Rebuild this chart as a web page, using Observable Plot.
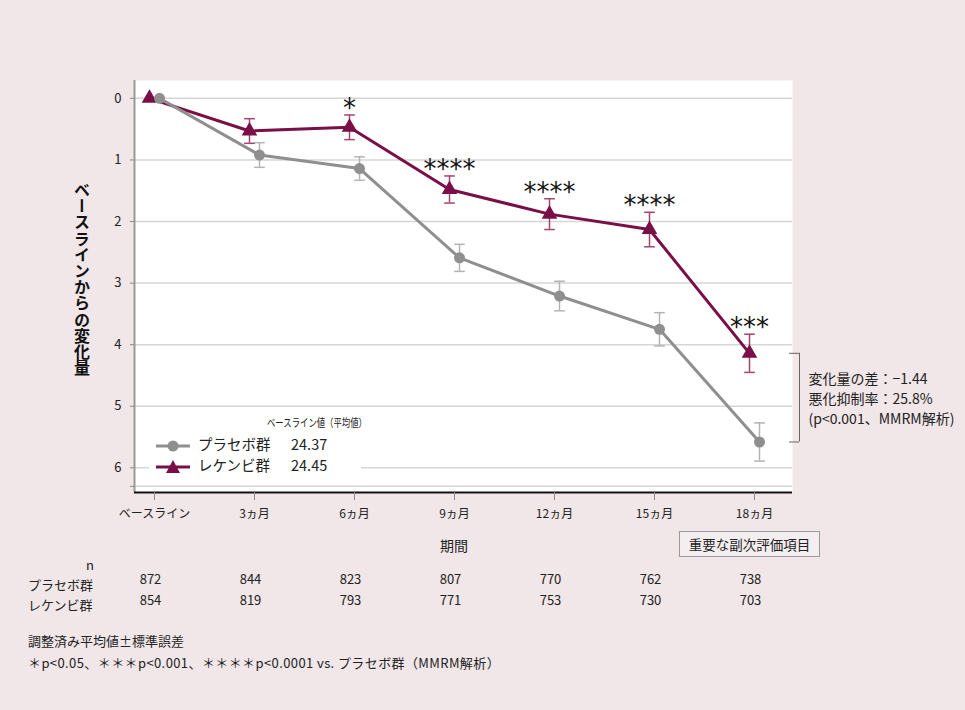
<!DOCTYPE html>
<html><head><meta charset="utf-8">
<script src="https://cdn.jsdelivr.net/npm/d3@7"></script>
<script src="https://cdn.jsdelivr.net/npm/@observablehq/plot@0.6"></script>
<style>
html,body{margin:0;padding:0;background:#f1e6e8;}
#wrap{position:relative;width:965px;height:710px;background:#f1e6e8;overflow:hidden;font-family:"Noto Sans CJK JP","Noto Sans",sans-serif;color:#222;}
#chart{position:absolute;left:0;top:0;}
.abs{position:absolute;white-space:nowrap;}
</style></head>
<body><div id="wrap"><div id="chart"></div></div>
<script>
// ---- data ----
const months = [0, 3, 6, 9, 12, 15, 18];
const xLabels = ["ベースライン", "3ヵ月", "6ヵ月", "9ヵ月", "12ヵ月", "15ヵ月", "18ヵ月"];
const placeboMean = [0, 0.92, 1.14, 2.59, 3.21, 3.75, 5.58];
const placeboSE   = [0, 0.20, 0.19, 0.22, 0.24, 0.27, 0.31];
const lecMean     = [0, 0.53, 0.47, 1.48, 1.88, 2.13, 4.14];
const lecSE       = [0, 0.20, 0.20, 0.22, 0.25, 0.28, 0.31];
const sigLabels   = ["", "", "*", "****", "****", "****", "***"];
const nPlacebo = [872, 844, 823, 807, 770, 762, 738];
const nLec     = [854, 819, 793, 771, 753, 730, 703];
const yTicks = [0, 1, 2, 3, 4, 5, 6];
const yExtraTick = [6.3];
const groupNames = ["プラセボ群", "レケンビ群"];
const baselineValues = ["24.37", "24.45"];
const annotationLines = ["変化量の差：−1.44", "悪化抑制率：25.8%", "(p<0.001、MMRM解析)"];

const colPla = "#8f8f8f", colPlaErr = "#b4b4b4";
const colLec = "#7a0f47", colLecErr = "#a3456f";

const pla = months.map((m, i) => ({month: m, v: placeboMean[i], se: placeboSE[i]}));
const lec = months.map((m, i) => ({month: m, v: lecMean[i], se: lecSE[i], sig: sigLabels[i]}));
const errPla = pla.filter(d => d.se > 0);
const errLec = lec.filter(d => d.se > 0);

const xDomain = [-0.6, 19.14];
const yDomain = [-0.29, 6.4];
const cap = 0.16;
const bracketX = 19.35;

const lastP = pla[pla.length - 1], lastL = lec[lec.length - 1];

const chart = Plot.plot({
  width: 965, height: 710,
  marginLeft: 134, marginRight: 173, marginTop: 80, marginBottom: 218,
  style: {background: "transparent", fontFamily: "'Noto Sans CJK JP', sans-serif", fontSize: "13px", overflow: "visible", color: "#222"},
  x: {type: "linear", domain: xDomain},
  y: {domain: yDomain, reverse: true},
  marks: [
    Plot.frame({fill: "white", stroke: null}),
    Plot.ruleY(yTicks.concat(yExtraTick), {stroke: "#d6d6d6", strokeWidth: 1.5}),
    Plot.ruleX([xDomain[0]], {stroke: "#9a9a9a", strokeWidth: 2}),
    Plot.ruleY([yDomain[1]], {stroke: "#111", strokeWidth: 2}),
    Plot.axisY({ticks: yTicks.concat(yExtraTick), tickFormat: d => Number.isInteger(d) ? String(d) : "", tickSize: 4, tickPadding: 9, stroke: "#888", label: null, fontSize: 13}),
    Plot.axisX({ticks: months, tickFormat: d => xLabels[months.indexOf(d)], tickSize: 8, tickPadding: 9, stroke: "#888", label: null, fontSize: 12}),
    // error bars
    Plot.ruleX(errPla, {x: "month", y1: d => d.v - d.se, y2: d => d.v + d.se, dx: 5, stroke: colPlaErr, strokeWidth: 1.5}),
    Plot.link(errPla, {x1: d => d.month - cap, x2: d => d.month + cap, y1: d => d.v - d.se, y2: d => d.v - d.se, dx: 5, stroke: colPlaErr, strokeWidth: 1.5}),
    Plot.link(errPla, {x1: d => d.month - cap, x2: d => d.month + cap, y1: d => d.v + d.se, y2: d => d.v + d.se, dx: 5, stroke: colPlaErr, strokeWidth: 1.5}),
    Plot.ruleX(errLec, {x: "month", y1: d => d.v - d.se, y2: d => d.v + d.se, dx: -5, stroke: colLecErr, strokeWidth: 1.5}),
    Plot.link(errLec, {x1: d => d.month - cap, x2: d => d.month + cap, y1: d => d.v - d.se, y2: d => d.v - d.se, dx: -5, stroke: colLecErr, strokeWidth: 1.5}),
    Plot.link(errLec, {x1: d => d.month - cap, x2: d => d.month + cap, y1: d => d.v + d.se, y2: d => d.v + d.se, dx: -5, stroke: colLecErr, strokeWidth: 1.5}),
    // lines
    Plot.line(lec, {x: "month", y: "v", dx: -5, stroke: colLec, strokeWidth: 3}),
    Plot.dot(lec, {x: "month", y: "v", dx: -5, symbol: "triangle", r: 5.8, fill: colLec, stroke: null}),
    Plot.line(pla, {x: "month", y: "v", dx: 5, stroke: colPla, strokeWidth: 3}),
    Plot.dot(pla, {x: "month", y: "v", dx: 5, symbol: "circle", r: 5.5, fill: colPla, stroke: null}),
    // significance
    Plot.text(lec.filter(d => d.sig), {x: "month", y: d => d.v - d.se, text: "sig", dx: -5, dy: 2, lineAnchor: "bottom", fontSize: 26, fontFamily: "DejaVu Sans", fill: "#111"}),
    // bracket
    Plot.ruleX([bracketX], {y1: lastL.v, y2: lastP.v, stroke: "#666", strokeWidth: 1}),
    Plot.ruleY([lastL.v, lastP.v], {x1: bracketX - 0.3, x2: bracketX, stroke: "#666", strokeWidth: 1}),
    Plot.text([annotationLines.join("\n")], {x: bracketX, y: (lastL.v + lastP.v) / 2, dx: 9, textAnchor: "start", lineAnchor: "middle", lineHeight: 1.45, fontSize: 14, fill: "#222"}),
    // n table
    Plot.text(nPlacebo, {x: (d, i) => months[i], text: d => String(d), frameAnchor: "bottom", dx: -4, dy: 91, fontSize: 13, fill: "#222"}),
    Plot.text(nLec, {x: (d, i) => months[i], text: d => String(d), frameAnchor: "bottom", dx: -4, dy: 112, fontSize: 13, fill: "#222"})
  ]
});
document.getElementById("chart").appendChild(chart);

const wrap = document.getElementById("wrap");
function add(html, style) {
  const d = document.createElement("div");
  d.className = "abs";
  d.innerHTML = html;
  d.setAttribute("style", style);
  wrap.appendChild(d);
  return d;
}
// y label
add("ベースラインからの変化量", "left:72px;top:182px;writing-mode:vertical-rl;text-orientation:upright;font-weight:bold;font-size:16px;line-height:20px;letter-spacing:0.2px;color:#111;");
// x title
add("期間", "left:440px;top:535px;font-size:14px;");
add("重要な副次評価項目", "left:679px;top:531px;width:139px;height:24px;border:1px solid #9a9a9a;background:#f5eef0;font-size:13.5px;line-height:24px;text-align:center;");
// legend
const legendSwatch = (col, sym) => `<svg width="34" height="14" style="vertical-align:middle"><line x1="0" y1="7" x2="34" y2="7" stroke="${col}" stroke-width="3"/>${sym === "c" ? `<circle cx="17" cy="7" r="5.5" fill="${col}"/>` : `<path d="M17,0 L24,13 L10,13 Z" fill="${col}"/>`}</svg>`;
add(`<div style="position:absolute;left:118px;top:4px;font-size:11px;transform:scaleX(0.76);transform-origin:left top;">ベースライン値（平均値）</div>
<div style="position:absolute;left:7px;top:24px;height:20px;line-height:20px;font-size:14.5px;">${legendSwatch(colPla, "c")}<span style="position:absolute;left:42px;">${groupNames[0]}</span><span style="position:absolute;left:135px;">${baselineValues[0]}</span></div>
<div style="position:absolute;left:7px;top:45px;height:20px;line-height:20px;font-size:14.5px;">${legendSwatch(colLec, "t")}<span style="position:absolute;left:42px;">${groupNames[1]}</span><span style="position:absolute;left:135px;">${baselineValues[1]}</span></div>`,
  "left:149px;top:410px;width:212px;height:68px;background:white;");
// table labels
add("n", "left:86px;top:555px;font-size:13px;");
add(groupNames[0], "left:28px;top:575px;font-size:13px;");
add(groupNames[1], "left:28px;top:595px;font-size:13px;");
// footnotes
add("調整済み平均値±標準誤差", "left:28px;top:631px;font-size:13px;");
add("＊p&lt;0.05、＊＊＊p&lt;0.001、＊＊＊＊p&lt;0.0001 vs. プラセボ群（MMRM解析）", "left:28px;top:653px;font-size:13px;letter-spacing:0.4px;");
</script>
</body></html>
